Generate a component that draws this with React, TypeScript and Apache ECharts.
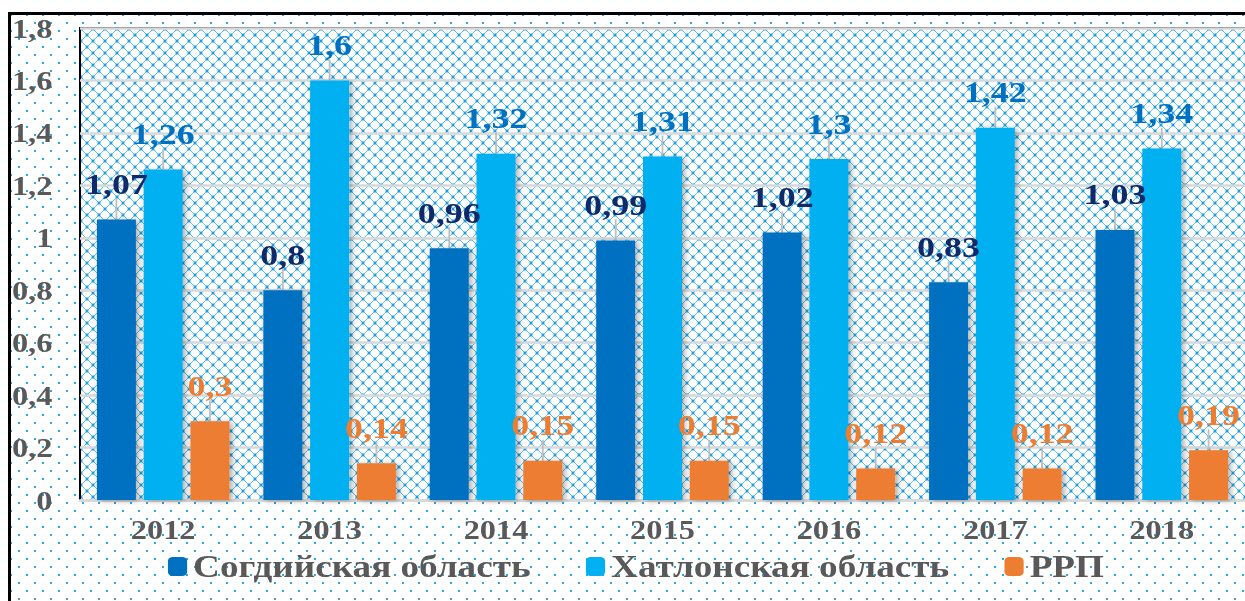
import React, { useEffect, useRef } from "react";
import * as echarts from "echarts";

const categories = ["2012", "2013", "2014", "2015", "2016", "2017", "2018"];
const sogdValues = [1.07, 0.8, 0.96, 0.99, 1.02, 0.83, 1.03];
const khatlonValues = [1.26, 1.6, 1.32, 1.31, 1.3, 1.42, 1.34];
const rrpValues = [0.3, 0.14, 0.15, 0.15, 0.12, 0.12, 0.19];
const seriesNames = ["Согдийская область", "Хатлонская область", "РРП"];

const FONT = "'Liberation Serif', 'Times New Roman', serif";
const SCALE_X = 1.2;
const CHART_W = Math.round(1245 / SCALE_X);

const hatchSvg =
  "data:image/svg+xml;utf8," +
  encodeURIComponent(
    '<svg xmlns="http://www.w3.org/2000/svg" width="12" height="12">' +
      '<path d="M0 0 L12 12 M12 0 L0 12" stroke="#5CC1EE" stroke-width="1" fill="none"/>' +
      '<path d="M4.8 4.8 L7.2 7.2 M7.2 4.8 L4.8 7.2" stroke="#1C9DDF" stroke-width="1.4"/>' +
      '<path d="M0 0 L1.2 1.2 M10.8 10.8 L12 12 M12 0 L10.8 1.2 M0 12 L1.2 10.8" stroke="#1C9DDF" stroke-width="1.4"/>' +
      "</svg>"
  );

const fmt = (v: number) => String(v).replace(".", ",");

export default function App() {
  const ref = useRef<HTMLDivElement>(null);

  useEffect(() => {
    if (!ref.current) return;
    const chart = echarts.init(ref.current, undefined, { renderer: "svg" });
    const mkSeries = (name: string, data: number[], color: string, labelColor: string) => ({
      name,
      type: "bar",
      data,
      barWidth: 32.5,
      barGap: "20%",
      itemStyle: {
        color,
        shadowColor: "rgba(0,0,0,0.35)",
        shadowBlur: 5,
        shadowOffsetX: 2,
        shadowOffsetY: 1,
      },
      label: {
        show: true,
        position: "top",
        distance: 4,
        formatter: (p: any) => fmt(p.value),
        color: labelColor,
        fontFamily: FONT,
        fontWeight: "bold",
        fontSize: 30,
      },
      labelLayout: { dy: -17 },
      labelLine: { show: true, lineStyle: { color: "#BFBFBF", width: 1.5 } },
    });

    chart.setOption({
      animation: false,
      backgroundColor: "transparent",
      grid: { left: 80 / SCALE_X, right: CHART_W - 1249 / SCALE_X, top: 28, bottom: 101 },
      legend: {
        left: 168 / SCALE_X,
        top: 551,
        padding: 0,
        itemWidth: 16,
        itemHeight: 19,
        itemGap: 46,
        textStyle: { color: "#595959", fontFamily: FONT, fontWeight: "bold", fontSize: 31 },
        data: seriesNames,
      },
      xAxis: {
        type: "category",
        data: categories,
        axisLine: { show: true, lineStyle: { color: "#D9D9D9", width: 2.5 } },
        axisTick: { show: false },
        axisLabel: { color: "#595959", fontFamily: FONT, fontWeight: "bold", fontSize: 27, margin: 16 },
      },
      yAxis: {
        type: "value",
        min: 0,
        max: 1.8,
        interval: 0.2,
        axisLine: { show: false },
        axisTick: { show: false },
        splitLine: { lineStyle: { color: "#D9D9D9", width: 2.5 } },
        axisLabel: {
          color: "#595959",
          fontFamily: FONT,
          fontWeight: "bold",
          fontSize: 27,
          margin: 23,
          formatter: (v: number) => fmt(Math.round(v * 10) / 10),
        },
      },
      series: [
        mkSeries(seriesNames[0], sogdValues, "#0070C0", "#0E2A6B"),
        mkSeries(seriesNames[1], khatlonValues, "#00B0F0", "#0070C0"),
        mkSeries(seriesNames[2], rrpValues, "#ED7D31", "#ED7D31"),
      ],
    });
    return () => chart.dispose();
  }, []);

  const dots =
    "radial-gradient(circle, #2AA9E4 1px, transparent 1.4px) 0 0 / 16px 16px, " +
    "radial-gradient(circle, #2AA9E4 1px, transparent 1.4px) 8px 8px / 16px 16px";

  return (
    <div style={{ position: "absolute", left: 0, top: 0, width: 1245, height: 601, overflow: "hidden", background: "#fff" }}>
      <div
        style={{
          position: "absolute",
          left: 8,
          top: 12,
          width: 1245,
          height: 601,
          borderLeft: "3px solid #000",
          borderTop: "3px solid #000",
          background: dots,
          backgroundColor: "#fff",
        }}
      />
      <div
        style={{
          position: "absolute",
          left: 79,
          top: 27,
          width: 1245 - 79,
          height: 500 - 27,
          borderLeft: "2px solid #000",
          borderTop: "2px solid #000",
          backgroundColor: "#fff",
          backgroundImage: `url("${hatchSvg}")`,
          backgroundRepeat: "repeat",
          boxSizing: "border-box",
        }}
      />
      <div
        ref={ref}
        style={{
          position: "absolute",
          left: 0,
          top: 0,
          width: CHART_W,
          height: 601,
          transform: `scaleX(${1245 / CHART_W})`,
          transformOrigin: "0 0",
        }}
      />
    </div>
  );
}
